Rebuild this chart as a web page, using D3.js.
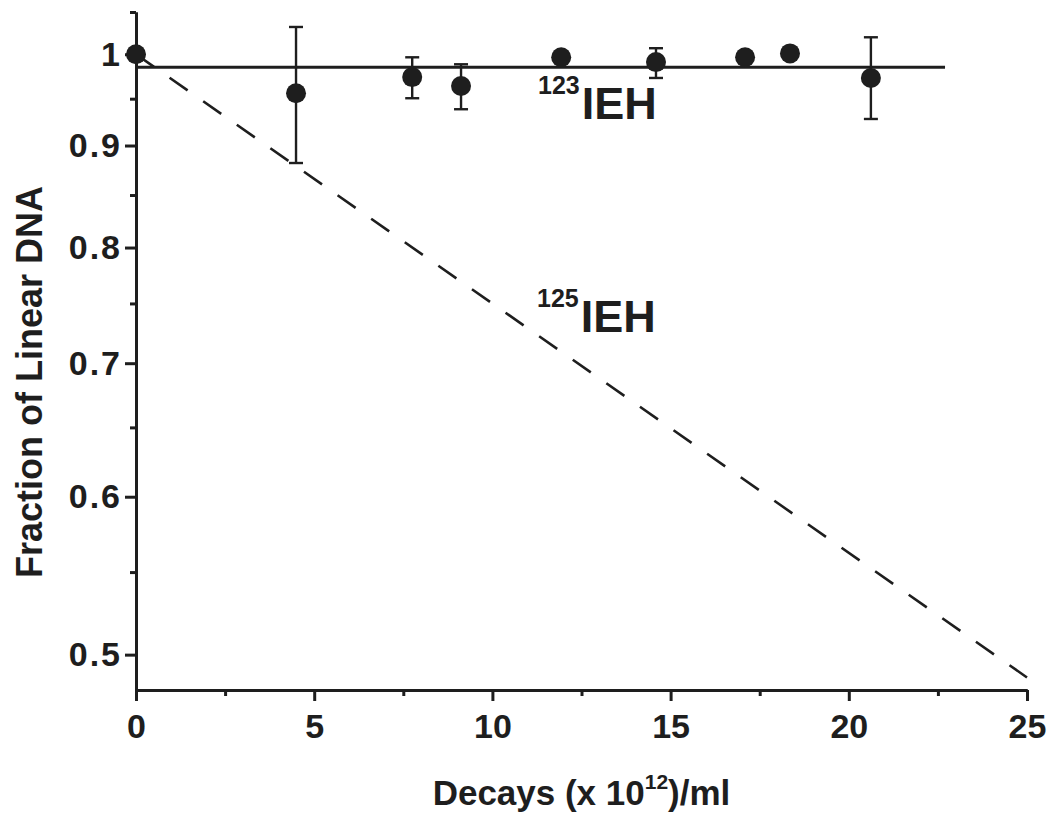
<!DOCTYPE html>
<html>
<head>
<meta charset="utf-8">
<script src="https://cdn.jsdelivr.net/npm/d3@7"></script>
<style>
  body { margin: 0; background: #fff; }
  text { font-family: "Liberation Sans", Arial, sans-serif; font-weight: bold; fill: #1e1e1e; }
</style>
</head>
<body>
<div id="chart-area"></div>
<script>
// data
var decays   = [0, 4.49, 7.75, 9.12, 11.93, 14.59, 17.09, 18.35, 20.62];
var fraction = [1.0, 0.956, 0.974, 0.964, 0.9965, 0.991, 0.9965, 1.001, 0.973];
var errHigh  = [null, 1.032, 0.9965, 0.9885, null, 1.007, null, null, 1.0198];
var errLow   = [null, 0.882, 0.9505, 0.9385, null, 0.973, null, null, 0.928];

// fitted lines
var fit123 = [[0, 0.985], [22.7, 0.985]];
var fit125 = [[0, 1.0], [25, 0.487]];

var xTicks = [0, 5, 10, 15, 20, 25];
var xMinor = [2.5, 7.5, 12.5, 17.5, 22.5];
var yTicks = [0.5, 0.6, 0.7, 0.8, 0.9, 1];
var yMinor = [0.55, 0.65, 0.75, 0.85, 0.95, 1.05];

var margin = {top: 12, right: 28, bottom: 131, left: 136},
    width = 1055 - margin.left - margin.right,
    height = 821 - margin.top - margin.bottom;

var svg = d3.select("#chart-area")
  .append("svg")
    .attr("width", 1055)
    .attr("height", 821)
  .append("g")
    .attr("transform", `translate(${margin.left}, ${margin.top})`);

var x = d3.scaleLinear().domain([0, 25]).range([0, width]);
var y = d3.scaleLog().domain([0.48, 1.05]).range([height, 0]);

var ink = "#1e1e1e";

// axes
var xAxisG = svg.append("g").attr("transform", `translate(0, ${height})`);
xAxisG.call(d3.axisBottom(x).tickValues(xTicks).tickSize(11).tickSizeOuter(0).tickPadding(13).tickFormat(d3.format("d")));
var xMinorG = svg.append("g").attr("transform", `translate(0, ${height})`);
xMinorG.call(d3.axisBottom(x).tickValues(xMinor).tickSize(6).tickSizeOuter(0).tickFormat(""));

var yAxisG = svg.append("g");
yAxisG.call(d3.axisLeft(y).tickValues(yTicks).tickSize(11).tickSizeOuter(0).tickPadding(3).tickFormat(d => d == 1 ? "1" : d3.format(".1f")(d)));
var yMinorG = svg.append("g");
yMinorG.call(d3.axisLeft(y).tickValues(yMinor).tickSize(6).tickSizeOuter(0).tickFormat(""));

svg.selectAll(".domain").attr("stroke", ink).attr("stroke-width", 3);
svg.selectAll(".tick line").attr("stroke", ink).attr("stroke-width", 3);
svg.selectAll(".tick text")
  .style("font-size", "34px")
  .style("font-family", "Liberation Sans, Arial, sans-serif")
  .style("font-weight", "bold")
  .attr("fill", ink);
yAxisG.selectAll(".tick text").style("letter-spacing", "2px");

// fitted lines
var line = d3.line().x(d => x(d[0])).y(d => y(d[1]));

svg.append("path")
  .datum(fit125)
  .attr("d", line)
  .attr("fill", "none")
  .attr("stroke", ink)
  .attr("stroke-width", 2.6)
  .attr("stroke-dasharray", "22,19");

svg.append("path")
  .datum(fit123)
  .attr("d", line)
  .attr("fill", "none")
  .attr("stroke", ink)
  .attr("stroke-width", 3);

// error bars
var pts = decays.map((d, i) => ({x: d, y: fraction[i], hi: errHigh[i], lo: errLow[i]}));
var withErr = pts.filter(d => d.hi != null);

var eb = svg.append("g").attr("stroke", ink).attr("stroke-width", 2.4);
eb.selectAll(".ebar").data(withErr).enter().append("line")
  .attr("x1", d => x(d.x)).attr("x2", d => x(d.x))
  .attr("y1", d => y(d.hi)).attr("y2", d => y(d.lo));
eb.selectAll(".ecapHi").data(withErr).enter().append("line")
  .attr("x1", d => x(d.x) - 7).attr("x2", d => x(d.x) + 7)
  .attr("y1", d => y(d.hi)).attr("y2", d => y(d.hi));
eb.selectAll(".ecapLo").data(withErr).enter().append("line")
  .attr("x1", d => x(d.x) - 7).attr("x2", d => x(d.x) + 7)
  .attr("y1", d => y(d.lo)).attr("y2", d => y(d.lo));

// points
svg.selectAll(".dot").data(pts).enter().append("circle")
  .attr("cx", d => x(d.x))
  .attr("cy", d => y(d.y))
  .attr("r", 10)
  .attr("fill", ink);

// curve labels
function isoLabel(mass, xv, yb) {
  var t = svg.append("text").attr("x", xv).attr("y", yb);
  t.append("tspan").attr("font-size", "25px").attr("dy", -25).text(mass);
  t.append("tspan").attr("font-size", "45px").attr("dy", 25).attr("dx", 2).text("IEH");
}
isoLabel("123", 402, 107);
isoLabel("125", 401, 320);

// axis titles
var xt = svg.append("text")
  .attr("x", width / 2)
  .attr("y", 793)
  .attr("text-anchor", "middle")
  .attr("font-size", "35px");
xt.append("tspan").text("Decays (x 10");
xt.append("tspan").attr("font-size", "21px").attr("dy", -16).text("12");
xt.append("tspan").attr("dy", 16).text(")/ml");

svg.append("text")
  .attr("transform", `translate(${42 - margin.left}, ${382 - margin.top}) rotate(-90)`)
  .attr("text-anchor", "middle")
  .attr("font-size", "36px")
  .text("Fraction of Linear DNA");
</script>
</body>
</html>
